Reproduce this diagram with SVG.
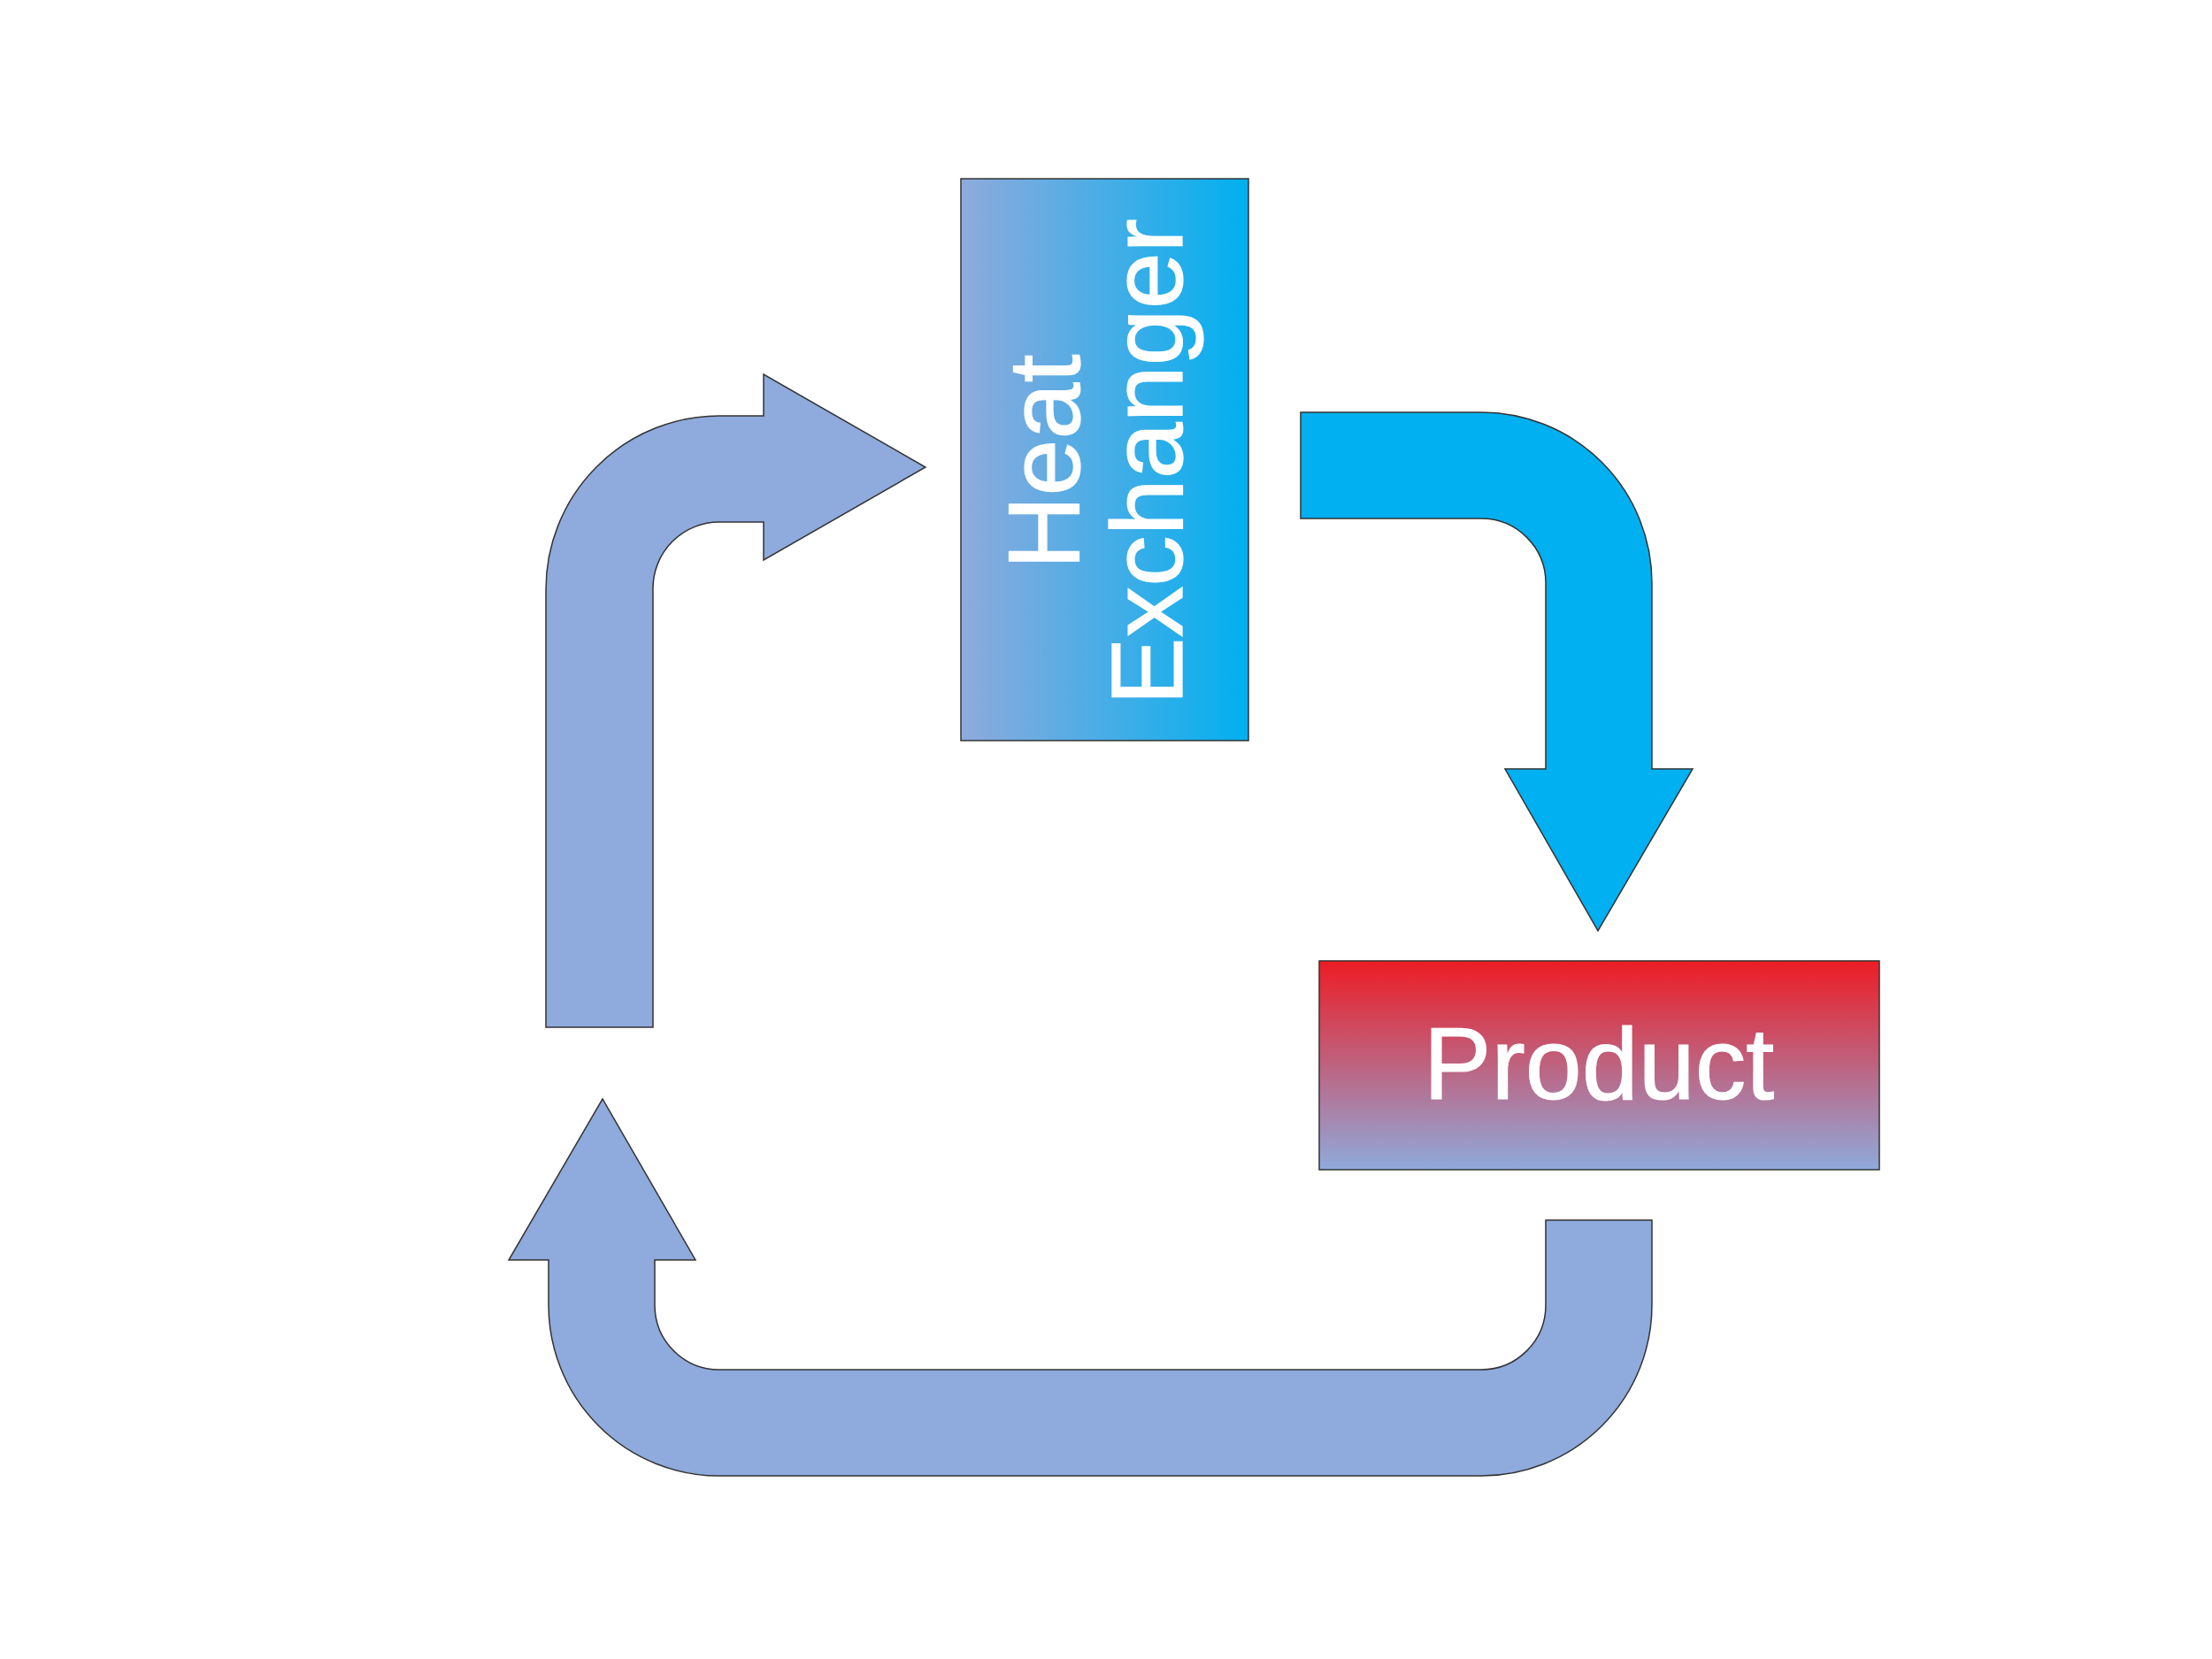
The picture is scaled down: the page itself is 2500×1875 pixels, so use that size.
<svg xmlns="http://www.w3.org/2000/svg" width="2500" height="1875" viewBox="0 0 2500 1875">
<defs>
<linearGradient id="gHX" x1="0" y1="0" x2="1" y2="0">
<stop offset="0" stop-color="#8FAADC"/>
<stop offset="1" stop-color="#00B0F0"/>
</linearGradient>
<linearGradient id="gPR" x1="0" y1="0" x2="0" y2="1">
<stop offset="0" stop-color="#ED1C24"/>
<stop offset="1" stop-color="#8FAADC"/>
</linearGradient>
<style>
.box{stroke:#333;stroke-width:1.5}
.arr{stroke:#333;stroke-width:1.5;stroke-linejoin:miter}
.lb{fill:#8FAADC}
.cy{fill:#00B0F0}
.t{font-family:"Liberation Sans",Arial,sans-serif;font-size:115px;fill:#fff;stroke:#fff;stroke-width:1.2;text-anchor:middle}
</style>
</defs>
<rect width="2500" height="1875" fill="#fff"/>
<g id="connectors">
<path id="arrow-hx-product" class="arr cy" d="M1470,466 H1674 A193,193 0 0 1 1867,659 V869 H1913 L1806,1052 L1701,869 H1747 V659 A73,73 0 0 0 1674,586 H1470 Z"/>
<path id="arrow-product-return" class="arr lb" d="M1867,1379 V1475 A193,193 0 0 1 1674,1668 H813 A193,193 0 0 1 620,1475 V1424 H575 L681,1242 L786,1424 H740 V1475 A73,73 0 0 0 813,1548 H1674 A73,73 0 0 0 1747,1475 V1379 Z"/>
<path id="arrow-return-hx" class="arr lb" d="M617,1161 V666 A196,196 0 0 1 813,470 H863 V423 L1046,528 L863,633 V590 H813 A75,75 0 0 0 738,666 V1161 Z"/>
</g>
<g id="heat-exchanger">
<rect class="box" x="1086" y="202" width="325" height="635" fill="url(#gHX)"/>
<text class="t" transform="translate(1220,522) rotate(-90)">Heat</text>
<text class="t" transform="translate(1336,522) rotate(-90)">Exchanger</text>
</g>
<g id="product">
<rect class="box" x="1491" y="1086" width="633" height="236" fill="url(#gPR)"/>
<text class="t" x="1807" y="1242">Product</text>
</g>
</svg>
